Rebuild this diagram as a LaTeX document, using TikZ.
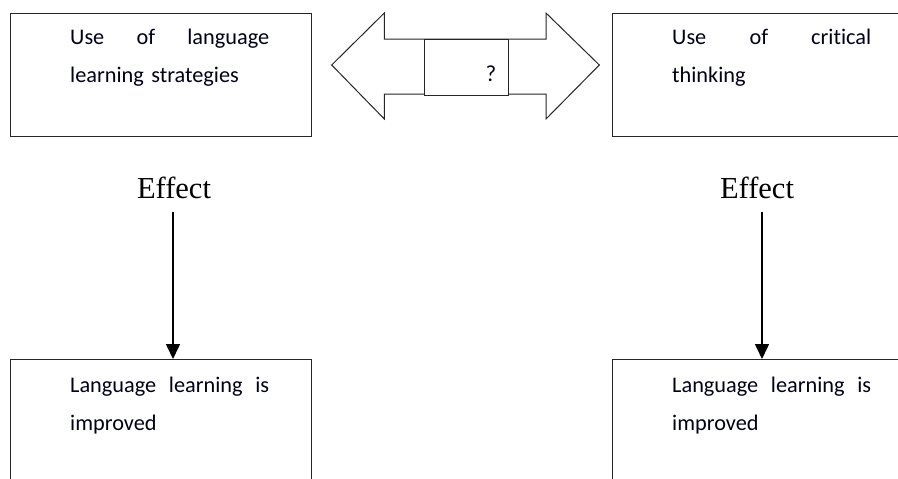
\documentclass[tikz,border=0pt]{standalone}
\usepackage{fontspec}
\setmainfont{Carlito}[Ligatures=CommonOff]
\newfontfamily\effectfont{Liberation Serif}
\usetikzlibrary{arrows.meta}
\begin{document}
\begin{tikzpicture}[x=1pt,y=-1pt,
  box/.style={draw=black!85,line width=1pt,minimum width=301pt,minimum height=123pt,anchor=north west,inner sep=0pt},
  txt/.style={anchor=base west,text width=199pt,align=left,inner sep=0pt,font=\fontsize{22.3}{38}\selectfont,text=black!90!blue},
  eff/.style={font=\effectfont\fontsize{30.5}{32}\selectfont,inner sep=0pt,anchor=base},
  arr/.style={line width=1.6pt,-{Triangle[width=14pt,length=15pt]}},
  dblarrow/.style={draw=black!85,line width=1pt,fill=white,line join=miter}]
\useasboundingbox (0,0) rectangle (898,479);
\clip (0,0) rectangle (898,479);
% boxes
\node[box] (tl) at (10,13) {};
\node[box] (tr) at (612,13) {};
\node[box,minimum height=140pt] (bl) at (10,359) {};
\node[box,minimum height=140pt] (br) at (612,359) {};
% texts
\node[txt] (ttl) at (70,45) {Use\hfill of\hfill language\\learning strategies};
\node[txt] (ttr) at (672,45) {Use\hfill of\hfill critical\\thinking};
\node[txt] (tbl) at (70,392) {Language\hfill learning\hfill is\\improved};
\node[txt] (tbr) at (672,392) {Language\hfill learning\hfill is\\improved};
% double arrow
\draw[dblarrow] (331.7,65) -- (384.3,13) -- (384.3,39) -- (546,39) -- (546,13)
  -- (599.3,65) -- (546,119) -- (546,94) -- (384.3,94) -- (384.3,119) -- cycle;
\node[draw=black!85,line width=1pt,fill=white,minimum width=84pt,minimum height=56pt,inner sep=0pt,anchor=north west] (q) at (424,39) {};
\node[font=\fontsize{23}{24}\selectfont,anchor=base,inner sep=0pt,text=black!90!blue] (qm) at (491,81) {?};
% effects
\node[eff] (effL) at (174,198) {Effect};
\node[eff] (effR) at (757,198) {Effect};
\coordinate (aL) at (173,212);
\coordinate (aR) at (762,212);
\draw[arr] (aL) -- (aL |- bl.north);
\draw[arr] (aR) -- (aR |- br.north);
\end{tikzpicture}
\end{document}
